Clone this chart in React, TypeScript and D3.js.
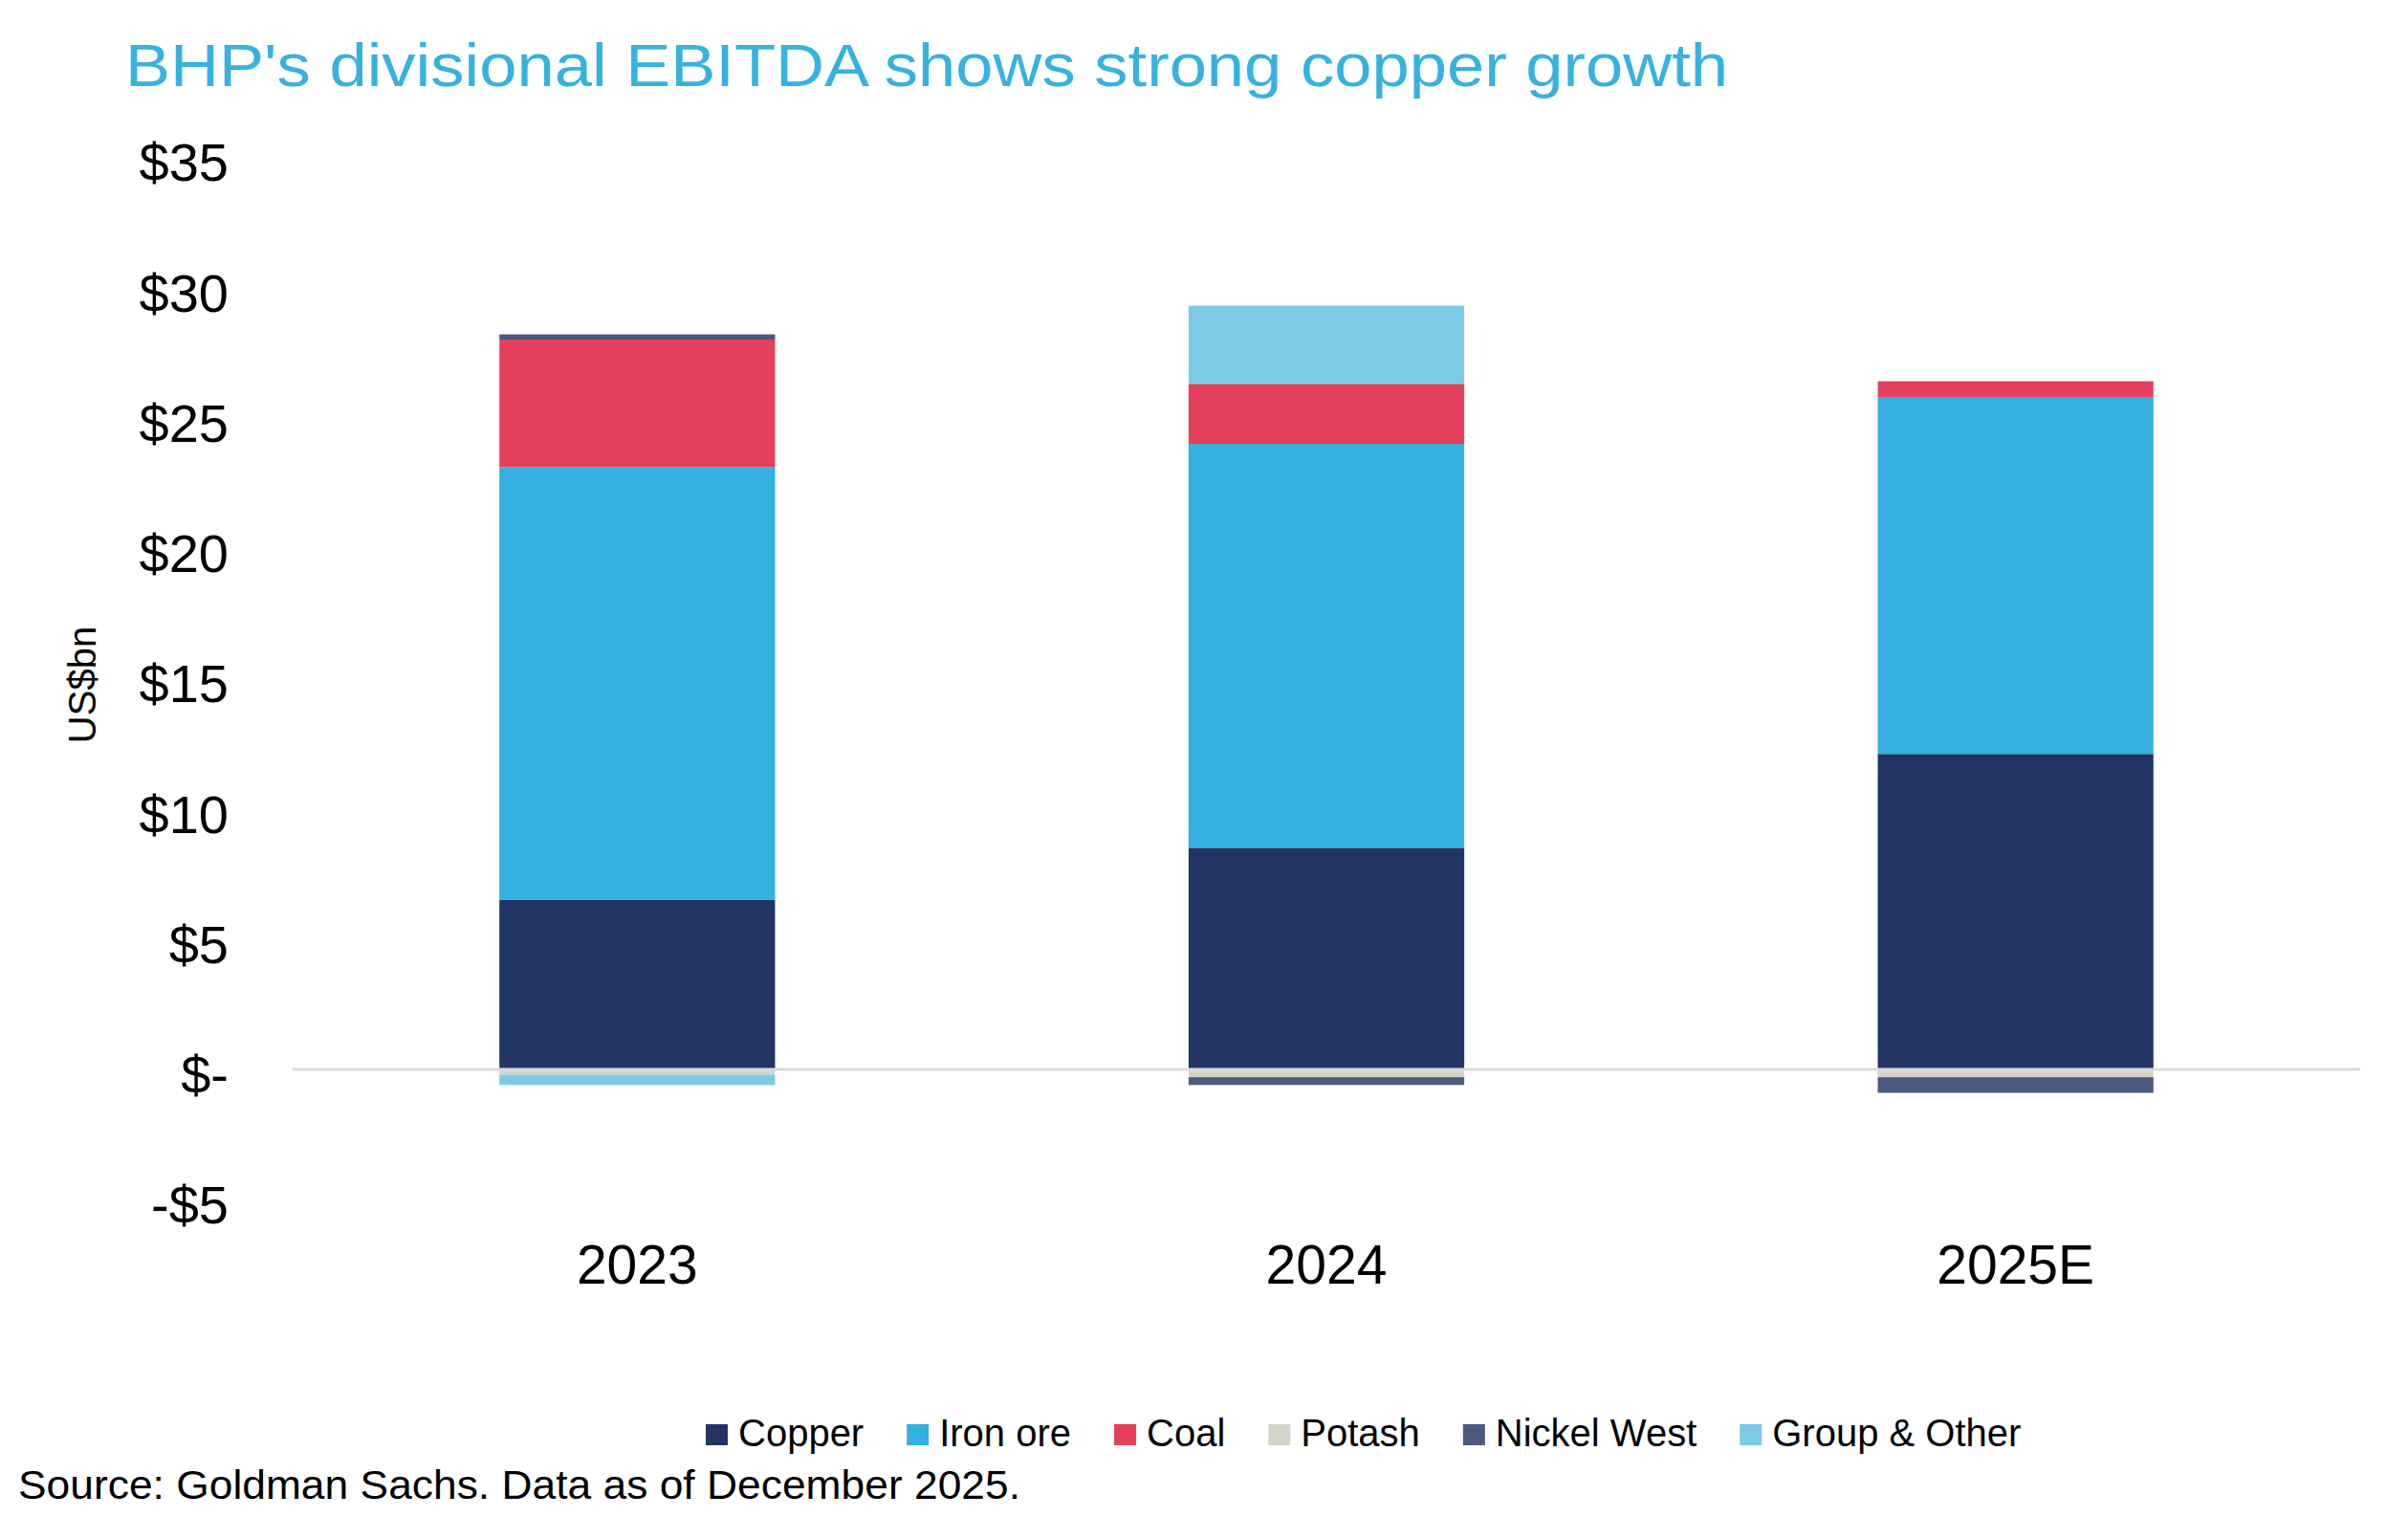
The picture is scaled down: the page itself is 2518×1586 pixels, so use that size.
import { useEffect, useRef } from "react";
import * as d3 from "d3";

// Divisional EBITDA, US$bn
const years = ["2023", "2024", "2025E"];
const divisions = ["Copper", "Iron ore", "Coal", "Potash", "Nickel West", "Group & Other"];
const copper = [6.5, 8.5, 12.1];
const ironOre = [16.6, 15.5, 13.7];
const coal = [4.9, 2.3, 0.6];
const potash = [-0.2, -0.3, -0.3];
const nickelWest = [0.2, -0.3, -0.6];
const groupOther = [-0.4, 3.0, 0];
const yTicks = [-5, 0, 5, 10, 15, 20, 25, 30, 35];

const colors = ["#223463", "#33b0df", "#e4405c", "#d6d4c8", "#4b5a80", "#7ccae3"];

const FONT = "'Liberation Sans', Arial, sans-serif";

function App() {
  const ref = useRef(null);

  useEffect(() => {
    const width = 2518;
    const height = 1586;

    const root = d3.select(ref.current);
    root.selectAll("*").remove();

    const svg = root
      .append("svg")
      .attr("width", width)
      .attr("height", height)
      .style("position", "absolute")
      .style("left", 0)
      .style("top", 0)
      .style("background", "#fff")
      .style("font-family", FONT);

    const rows = years.map((y, i) => ({
      year: y,
      "Copper": copper[i],
      "Iron ore": ironOre[i],
      "Coal": coal[i],
      "Potash": potash[i],
      "Nickel West": nickelWest[i],
      "Group & Other": groupOther[i],
    }));

    const x = d3
      .scaleBand()
      .domain(years)
      .range([306, 2468])
      .paddingInner(0.6)
      .paddingOuter(0.3);

    const y = d3.scaleLinear().domain([-5, 35]).range([1254.25, 164.25]);

    const stack = d3.stack().keys(divisions).offset(d3.stackOffsetDiverging);
    const series = stack(rows);

    // Title
    svg
      .append("text")
      .attr("x", 131)
      .attr("y", 90)
      .attr("fill", "#35b2e0")
      .attr("textLength", 1676)
      .attr("lengthAdjust", "spacingAndGlyphs")
      .style("font-size", "63px")
      .text("BHP's divisional EBITDA shows strong copper growth");

    // Y tick labels
    svg
      .append("g")
      .selectAll("text")
      .data(yTicks)
      .enter()
      .append("text")
      .attr("x", 239)
      .attr("y", (d) => y(d) + 25)
      .attr("text-anchor", "end")
      .style("font-size", "56px")
      .attr("fill", "#000")
      .text((d) => (d === 0 ? "$-" : d < 0 ? `-$${-d}` : `$${d}`));

    // Y axis title
    svg
      .append("text")
      .attr("transform", `translate(100, 716) rotate(-90)`)
      .attr("text-anchor", "middle")
      .style("font-size", "40px")
      .attr("fill", "#000")
      .text("US$bn");

    // Bars
    svg
      .append("g")
      .selectAll("g")
      .data(series)
      .enter()
      .append("g")
      .attr("fill", (d, i) => colors[i])
      .selectAll("rect")
      .data((d) => d)
      .enter()
      .append("rect")
      .attr("x", (d) => x(d.data.year))
      .attr("width", x.bandwidth())
      .attr("y", (d) => y(Math.max(d[0], d[1])))
      .attr("height", (d) => Math.abs(y(d[0]) - y(d[1])));

    // Zero line
    svg
      .append("line")
      .attr("x1", x.range()[0])
      .attr("x2", x.range()[1])
      .attr("y1", y(0))
      .attr("y2", y(0))
      .attr("stroke", "#d9d9d9")
      .attr("stroke-width", 3);

    // X labels
    svg
      .append("g")
      .selectAll("text")
      .data(years)
      .enter()
      .append("text")
      .attr("x", (d) => x(d) + x.bandwidth() / 2)
      .attr("y", 1342)
      .attr("text-anchor", "middle")
      .style("font-size", "57px")
      .attr("fill", "#000")
      .text((d) => d);

    // Legend
    const ctx = document.createElement("canvas").getContext("2d");
    ctx.font = `40px ${FONT}`;
    let lx = 738;
    const legend = svg.append("g");
    divisions.forEach((name, i) => {
      legend
        .append("rect")
        .attr("x", lx)
        .attr("y", 1489)
        .attr("width", 23)
        .attr("height", 22)
        .attr("fill", colors[i]);
      legend
        .append("text")
        .attr("x", lx + 34)
        .attr("y", 1512)
        .style("font-size", "40px")
        .attr("fill", "#000")
        .text(name);
      lx += 34 + ctx.measureText(name).width + 45;
    });

    // Source
    svg
      .append("text")
      .attr("x", 19)
      .attr("y", 1567)
      .attr("textLength", 1048)
      .attr("lengthAdjust", "spacingAndGlyphs")
      .style("font-size", "43px")
      .attr("fill", "#000")
      .text("Source: Goldman Sachs. Data as of December 2025.");
  }, []);

  return <div ref={ref}></div>;
}

export default App;
